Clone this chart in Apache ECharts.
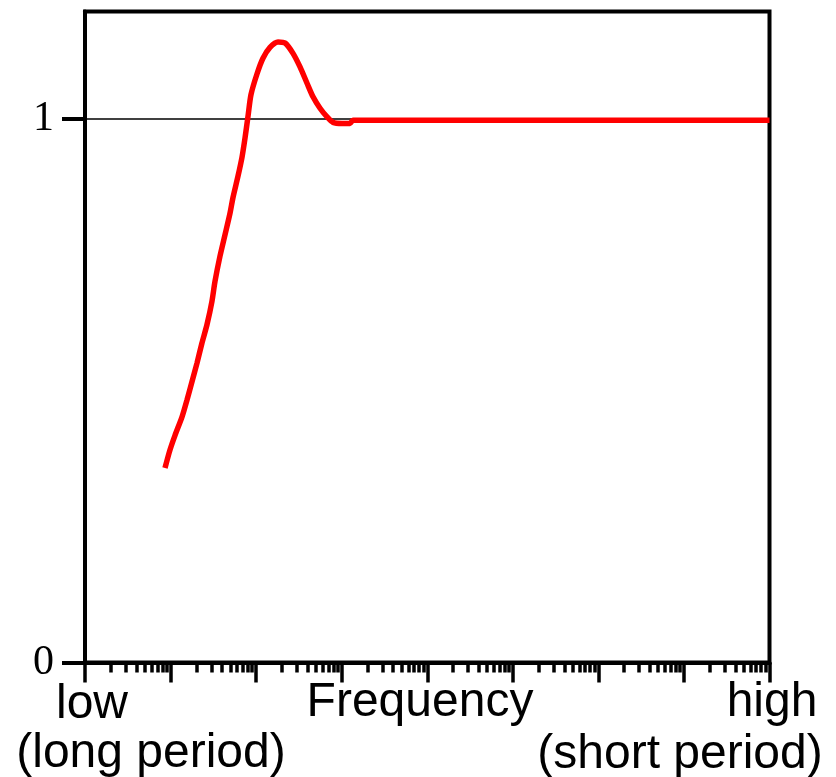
<!DOCTYPE html>
<html>
<head>
<meta charset="utf-8">
<script src="https://cdn.jsdelivr.net/npm/echarts@6/dist/echarts.min.js"></script>
<style>html,body{margin:0;padding:0;background:#fff}#c{width:836px;height:777px}</style>
</head>
<body>
<div id="c"></div>
<script>
// Frequency position in decades (log10 of frequency, axis spans 8 decades)
const logFreq = [0.935, 0.993, 1.052, 1.134, 1.192, 1.251, 1.309, 1.367, 1.426, 1.484, 1.519, 1.578, 1.636, 1.695, 1.730, 1.788, 1.835, 1.870, 1.905, 1.940, 2.010, 2.080, 2.162, 2.256, 2.338, 2.431, 2.513, 2.595, 2.665, 2.747, 2.829, 2.899, 3.004, 3.097, 3.132, 8.0];
const response = [0.358, 0.391, 0.418, 0.452, 0.483, 0.517, 0.551, 0.588, 0.622, 0.665, 0.701, 0.748, 0.787, 0.827, 0.856, 0.895, 0.930, 0.965, 1.005, 1.045, 1.083, 1.112, 1.132, 1.142, 1.140, 1.121, 1.096, 1.066, 1.041, 1.020, 1.004, 0.994, 0.992, 0.992, 0.998, 0.998];
const yTicks = [0, 1];
const decades = [0, 1, 2, 3, 4, 5, 6, 7, 8];
const minorMultipliers = [2, 3, 4, 5, 6, 7, 8, 9];
const xLabelLow = ['low', '(long period)'];
const xLabelMid = 'Frequency';
const xLabelHigh = ['high', '(short period)'];

const minorTicks = [];
for (let d = 0; d < 8; d++) for (const m of minorMultipliers) minorTicks.push(d + Math.log10(m));

const chart = echarts.init(document.getElementById('c'), null, {renderer: 'canvas'});
const sansFont = '"Liberation Sans", Arial, sans-serif';
const textStyle = {fill: '#000', fontSize: 48, fontFamily: sansFont, textAlign: 'center', textVerticalAlign: 'middle'};
chart.setOption({
  animation: false,
  backgroundColor: '#fff',
  grid: {left: 85, right: 66.5, top: 11.5, bottom: 114.5, show: true, borderColor: '#000', borderWidth: 4},
  xAxis: [
    {type: 'value', min: 0, max: 8, position: 'bottom',
     axisLine: {show: true, onZero: false, lineStyle: {color: '#000', width: 4}},
     axisTick: {show: true, customValues: decades, length: 20, lineStyle: {color: '#000', width: 3.5}},
     axisLabel: {show: false}, splitLine: {show: false}},
    {type: 'value', min: 0, max: 8, position: 'bottom',
     axisLine: {show: false, onZero: false},
     axisTick: {show: true, customValues: minorTicks, length: 10, lineStyle: {color: '#000', width: 3.5}},
     axisLabel: {show: false}, splitLine: {show: false}}
  ],
  yAxis: {type: 'value', min: 0, max: 1.198,
    axisLine: {show: true, lineStyle: {color: '#000', width: 4}},
    axisTick: {show: true, customValues: yTicks, length: 23, lineStyle: {color: '#000', width: 4}},
    axisLabel: {show: true, customValues: yTicks, margin: 31, color: '#000', fontSize: 42, fontFamily: '"Liberation Serif", "Times New Roman", serif'},
    splitLine: {show: true, lineStyle: {color: '#000', width: 1.5}}
  },
  series: [{
    type: 'line', xAxisIndex: 0, showSymbol: false, symbol: 'none', smooth: 0.25,
    data: logFreq.map((x, i) => [x, response[i]]),
    lineStyle: {color: '#ff0000', width: 5.5},
    z: 5
  }],
  graphic: [
    {type: 'text', x: 92, y: 705, style: Object.assign({text: xLabelLow[0]}, textStyle)},
    {type: 'text', x: 151, y: 754, style: Object.assign({text: xLabelLow[1]}, textStyle)},
    {type: 'text', x: 420, y: 703, style: Object.assign({text: xLabelMid}, textStyle)},
    {type: 'text', x: 772, y: 703, style: Object.assign({text: xLabelHigh[0]}, textStyle)},
    {type: 'text', x: 680, y: 755, style: Object.assign({text: xLabelHigh[1]}, textStyle)}
  ]
});
</script>
</body>
</html>
